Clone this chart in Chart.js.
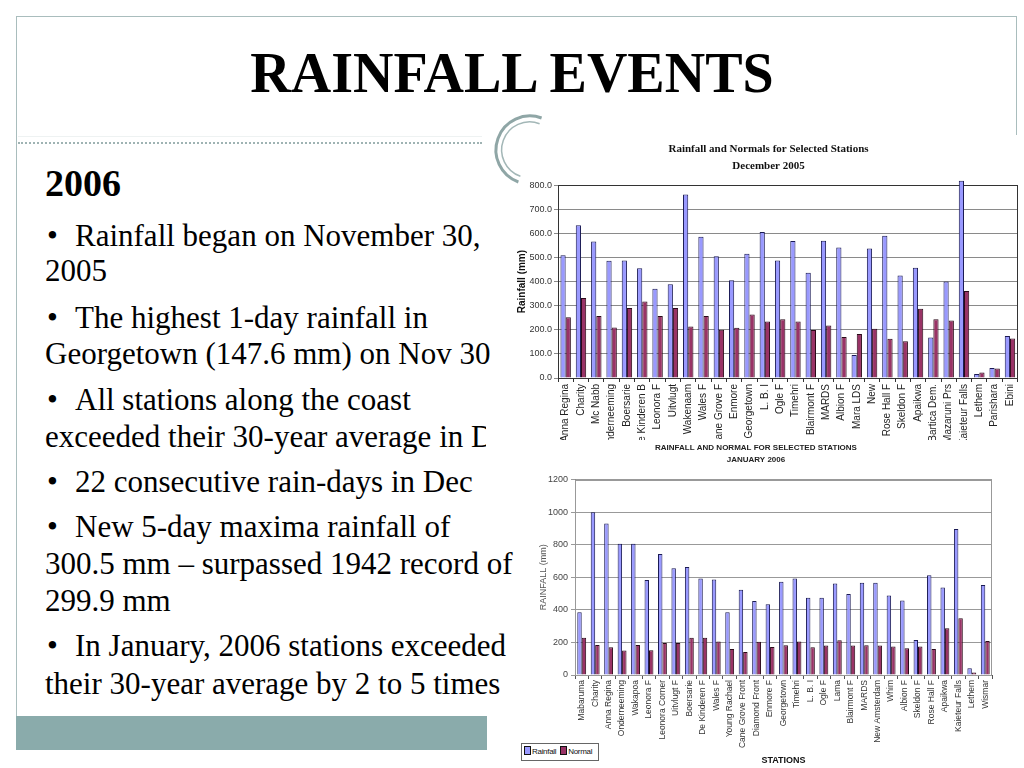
<!DOCTYPE html>
<html>
<head>
<meta charset="utf-8">
<script src="https://cdn.jsdelivr.net/npm/chart.js@4.4.0/dist/chart.umd.min.js"></script>
<style>
html,body{margin:0;padding:0;background:#fff;}
body{width:1024px;height:768px;position:relative;overflow:hidden;font-family:"Liberation Serif","Times New Roman",serif;color:#000;}
.abs{position:absolute;}
#frameTop{left:16px;top:16px;width:1001px;height:0;border-top:1.5px solid #a9bdbd;}
#frameLeft{left:16px;top:16px;width:0;height:700px;border-left:1.5px solid #a9bdbd;}
#frameRight{left:1016px;top:16px;width:0;height:125px;border-left:1.5px solid #a9bdbd;}
#dots{left:18px;top:142px;width:464px;height:0;border-top:2px dotted #9fb3b3;}
#faint{left:18px;top:136px;width:464px;height:0;border-top:1px solid #eef2f2;}
#title{left:0;top:41px;width:1024px;text-align:center;font-weight:bold;font-size:56px;line-height:64px;}
.line{position:absolute;left:45px;white-space:nowrap;font-size:31px;line-height:36px;}
.b{display:inline-block;width:30px;padding-left:2px;box-sizing:border-box;}
#year{left:45px;top:163px;font-weight:bold;font-size:38px;line-height:40px;}
#band{left:16px;top:716px;width:471px;height:34px;background:#8aabab;}
#decBox{left:495px;top:135px;width:529px;height:305px;background:#fff;}
#decBox2{left:486px;top:405px;width:40px;height:52px;background:#fff;}
#janBox{left:520px;top:440px;width:504px;height:328px;background:#fff;}
#decCanvas{position:absolute;left:515px;top:135px;}
#janCanvas{position:absolute;left:520px;top:440px;}
#legend{left:521px;top:743px;width:76px;height:16px;border:1px solid #666;background:#fff;font-family:"Liberation Sans",Arial,sans-serif;font-size:8px;line-height:16px;color:#111;white-space:nowrap;letter-spacing:-0.3px;}
#legend i{display:inline-block;width:5px;height:7px;border:1px solid #111;vertical-align:-1px;margin:0 1px 0 2px;}
#arcs{left:480px;top:100px;}
</style>
</head>
<body>
<div id="frameTop" class="abs"></div>
<div id="frameLeft" class="abs"></div>
<div id="frameRight" class="abs"></div>
<div id="faint" class="abs"></div>
<div id="dots" class="abs"></div>
<div id="title" class="abs">RAINFALL EVENTS</div>

<div id="year" class="abs">2006</div>
<div class="line" style="top:217.5px"><span class="b">•</span>Rainfall began on November 30,</div>
<div class="line" style="top:252.5px">2005</div>
<div class="line" style="top:299.5px"><span class="b">•</span>The highest 1-day rainfall in</div>
<div class="line" style="top:335.5px">Georgetown (147.6 mm) on Nov 30</div>
<div class="line" style="top:381.5px"><span class="b">•</span>All stations along the coast</div>
<div class="line" style="top:418.5px">exceeded their 30-year average in Dec</div>
<div class="line" style="top:463.5px"><span class="b">•</span>22 consecutive rain-days in Dec</div>
<div class="line" style="top:508.5px"><span class="b">•</span>New 5-day maxima rainfall of</div>
<div class="line" style="top:545.5px">300.5 mm – surpassed 1942 record of</div>
<div class="line" style="top:582.5px">299.9 mm</div>
<div class="line" style="top:627.5px"><span class="b">•</span>In January, 2006 stations exceeded</div>
<div class="line" style="top:665.5px">their 30-year average by 2 to 5 times</div>

<div id="band" class="abs"></div>

<div id="decBox" class="abs"></div>
<div id="decBox2" class="abs"></div>
<canvas id="decCanvas" width="509" height="305"></canvas>
<div id="janBox" class="abs"></div>
<canvas id="janCanvas" width="504" height="328"></canvas>

<div id="legend" class="abs"><i style="background:#9999ff"></i>Rainfall <i style="background:#993366"></i>Normal</div>

<svg id="arcs" class="abs" width="90" height="100" viewBox="480 100 90 100">
  <path d="M 541.6 118 A 34 34 0 1 0 518.4 182" fill="none" stroke="#8fa6a6" stroke-width="3"/>
  <path d="M 539.6 123.7 A 28 28 0 1 0 520.4 176.3" fill="none" stroke="#a3b7b7" stroke-width="1.5"/>
</svg>

<script>
// ---------- December 2005 ----------
const decStations = ["Anna Regina","Charity","Mc Nabb","Onderneeming","Boersarie","De Kinderen B","Leonora F","Uitvlugt","Wakenaam","Wales F","Cane Grove F","Enmore","Georgetown","L. B. I","Ogle F","Timehri","Blairmont F","MARDS","Albion F","Mara LDS","New","Rose Hall F","Skeldon F","Apaikwa","Bartica Dem.","Mazaruni Prs","Kaieteur Falls","Lethem","Parishara","Ebini"];
const decRainfall = [509,634,566,486,488,455,370,389,761,586,505,406,516,606,488,568,437,570,541,95,537,590,425,457,168,400,818,17,41,174];
const decNormal   = [252,332,257,210,290,317,257,290,214,257,200,208,263,234,244,234,199,218,170,183,204,163,152,287,244,239,361,23,39,164];
const decYTicks   = [0,100,200,300,400,500,600,700,800];

// ---------- January 2006 ----------
const janStations = ["Mabaruma","Charity","Anna Regina","Onderneeming","Wakapoa","Leonora F","Leonora Corner","Uitvlugt F","Boersarie","De Kinderen F","Wales F","Young Rachael","Cane Grove Front","Diamond Front","Enmore F","Georgetown","Timehri","L. B. I","Ogle F","Lama","Blairmont F","MARDS","New Amsterdam","Whim","Albion F","Skeldon F","Rose Hall F","Apaikwa","Kaieteur Falls","Lethem","Wismar"];
const janRainfall = [386,999,931,806,806,583,743,656,663,593,587,385,523,455,435,572,593,474,474,562,498,566,566,488,457,215,613,537,896,41,552];
const janNormal   = [228,185,170,150,185,152,197,197,228,228,205,160,142,204,172,182,206,170,181,213,181,183,181,175,165,175,160,287,349,16,209];
const janYTicks   = [0,200,400,600,800,1000,1200];

const seriesNames = ["Rainfall","Normal"];

const frameBox = {
  id:'frameBox',
  beforeDatasetsDraw(chart, args, opts){
    const {ctx, chartArea:a} = chart;
    ctx.save();
    ctx.strokeStyle = opts.color || '#333';
    ctx.lineWidth = 1;
    ctx.strokeRect(Math.round(a.left)+0.5, Math.round(a.top)+0.5, Math.round(a.right-a.left)-1, Math.round(a.bottom-a.top));
    ctx.restore();
  }
};

const sans = '"Liberation Sans", Arial, sans-serif';

new Chart(document.getElementById('decCanvas'), {
  type:'bar',
  plugins:[frameBox],
  data:{
    labels:decStations,
    datasets:[
      {label:seriesNames[0], data:decRainfall, backgroundColor:'#9999ff', borderColor:'#1b1b55', borderWidth:1, clip:false},
      {label:seriesNames[1], data:decNormal, backgroundColor:'#993366', borderColor:'#2a0a18', borderWidth:1}
    ]
  },
  options:{
    responsive:false, animation:false,
    layout:{padding:{left:0,right:2,top:0,bottom:0}},
    datasets:{bar:{categoryPercentage:0.68, barPercentage:1}},
    plugins:{
      legend:{display:false}, tooltip:{enabled:false},
      title:{display:true, text:['Rainfall and Normals for Selected Stations','December 2005'],
        font:{family:'"Liberation Serif", serif', size:11, weight:'bold', lineHeight:1.6}, color:'#111', padding:{top:5,bottom:10}},
      frameBox:{color:'#333'}
    },
    scales:{
      x:{
        grid:{display:true, drawOnChartArea:false, drawTicks:true, tickLength:4, color:'#333', offset:true},
        border:{color:'#333'},
        ticks:{minRotation:90, maxRotation:90, autoSkip:false, font:{family:sans, size:10}, color:'#222', padding:2},
        afterFit(a){ a.height = 62; }
      },
      y:{
        min:0, max:800,
        afterBuildTicks(a){ a.ticks = decYTicks.map(v=>({value:v})); },
        grid:{color:'#8a8a8a', tickLength:4, drawTicks:true},
        border:{color:'#333'},
        ticks:{callback:v=>Number(v).toFixed(1), font:{family:sans, size:9}, color:'#333', padding:2},
        title:{display:true, text:'Rainfall (mm)', font:{family:sans, size:10, weight:'bold'}, color:'#111', padding:{top:1,bottom:0}},
        afterFit(a){ a.width = 43; }
      }
    }
  }
});

new Chart(document.getElementById('janCanvas'), {
  type:'bar',
  plugins:[frameBox],
  data:{
    labels:janStations,
    datasets:[
      {label:seriesNames[0], data:janRainfall, backgroundColor:'#9999ff', borderColor:'#1b1b55', borderWidth:1},
      {label:seriesNames[1], data:janNormal, backgroundColor:'#993366', borderColor:'#2a0a18', borderWidth:1}
    ]
  },
  options:{
    responsive:false, animation:false,
    layout:{padding:{left:0,right:32,top:0,bottom:0}},
    datasets:{bar:{categoryPercentage:0.66, barPercentage:1}},
    plugins:{
      legend:{display:false}, tooltip:{enabled:false},
      title:{display:true, text:['RAINFALL AND NORMAL FOR SELECTED STATIONS','JANUARY 2006'],
        font:{family:sans, size:8, weight:'bold', lineHeight:1.6}, color:'#222', padding:{top:1,bottom:13}},
      frameBox:{color:'#999'}
    },
    scales:{
      x:{
        grid:{display:true, drawOnChartArea:false, drawTicks:true, tickLength:4, color:'#555', offset:true},
        border:{color:'#555'},
        ticks:{minRotation:90, maxRotation:90, autoSkip:false, font:{family:sans, size:8.5}, color:'#333', padding:1},
        title:{display:true, text:'STATIONS', font:{family:sans, size:9, weight:'bold'}, color:'#111', padding:{top:0,bottom:2}},
        afterFit(a){ a.height = 93; }
      },
      y:{
        min:0, max:1200,
        afterBuildTicks(a){ a.ticks = janYTicks.map(v=>({value:v})); },
        grid:{color:'#999', tickLength:4, drawTicks:true},
        border:{color:'#888'},
        ticks:{callback:v=>String(v), font:{family:sans, size:9}, color:'#444', padding:3},
        title:{display:true, text:'RAINFALL (mm)', font:{family:sans, size:9}, color:'#555', padding:{top:18,bottom:0}},
        afterFit(a){ a.width = 55; }
      }
    }
  }
});
</script>
</body>
</html>
